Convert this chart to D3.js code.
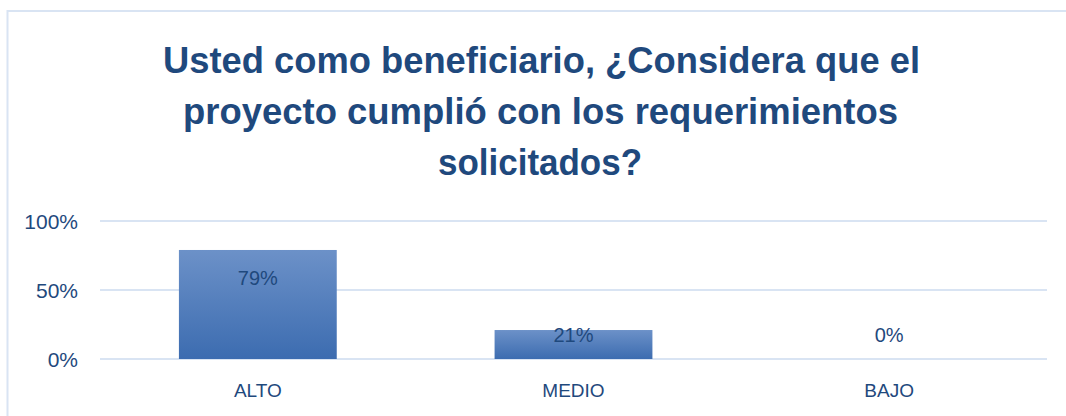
<!DOCTYPE html>
<html>
<head>
<meta charset="utf-8">
<script src="https://cdn.jsdelivr.net/npm/d3@7"></script>
<style>
  html, body { margin: 0; padding: 0; background: #fff; }
  svg { display: block; }
</style>
</head>
<body>
<svg id="chart" width="1066" height="416"></svg>
<script>
const categories = ["ALTO", "MEDIO", "BAJO"];
const values = [0.79, 0.21, 0.0];
const valueLabels = ["79%", "21%", "0%"];
const tickValues = [0, 0.5, 1];
const tickLabels = ["0%", "50%", "100%"];
const titleLines = [
  "Usted como beneficiario, ¿Considera que el",
  "proyecto cumplió con los requerimientos",
  "solicitados?"
];

const svg = d3.select("#chart");
const W = 1066, H = 416;
const textColor = "#1F497D";
const gridColor = "#D9E4F3";

// chart border
svg.append("rect")
  .attr("x", 7.5).attr("y", 11)
  .attr("width", W + 20).attr("height", H + 20)
  .attr("fill", "none").attr("stroke", gridColor).attr("stroke-width", 2);

// gradient
const defs = svg.append("defs");
const grad = defs.append("linearGradient").attr("id", "barGrad")
  .attr("x1", 0).attr("y1", 0).attr("x2", 0).attr("y2", 1);
grad.append("stop").attr("offset", "0%").attr("stop-color", "#6C91C8");
grad.append("stop").attr("offset", "100%").attr("stop-color", "#3C6CB0");

// title
const titleSpec = [
  { x0: 163, x1: 920, y: 73 },
  { x0: 183, x1: 898, y: 124 },
  { x0: 438, x1: 642, y: 175 }
];
svg.append("g").selectAll("text")
  .data(titleLines)
  .join("text")
  .attr("x", (d, i) => titleSpec[i].x0)
  .attr("y", (d, i) => titleSpec[i].y)
  .attr("textLength", (d, i) => titleSpec[i].x1 - titleSpec[i].x0)
  .attr("lengthAdjust", "spacingAndGlyphs")
  .attr("font-family", "'Liberation Sans', Arial, sans-serif")
  .attr("font-weight", "bold")
  .attr("font-size", 37)
  .attr("fill", textColor)
  .text(d => d);

// scales
const x = d3.scaleBand().domain(categories).range([100, 1047])
  .paddingInner(0.5).paddingOuter(0.25);
const y = d3.scaleLinear().domain([0, 1]).range([359, 221]);

// gridlines
svg.append("g").selectAll("line")
  .data(tickValues)
  .join("line")
  .attr("x1", 100).attr("x2", 1047)
  .attr("y1", d => y(d)).attr("y2", d => y(d))
  .attr("stroke", gridColor).attr("stroke-width", 2);

// y axis labels
const yAxis = d3.axisLeft(y).tickValues(tickValues)
  .tickFormat((d, i) => tickLabels[i]).tickSize(0).tickPadding(0);
const gy = svg.append("g").attr("transform", "translate(78,0)").call(yAxis);
gy.select(".domain").remove();
gy.selectAll("text")
  .attr("font-family", "'Liberation Sans', Arial, sans-serif")
  .attr("font-size", 21).attr("fill", textColor).attr("dy", "0.35em");

// bars
svg.append("g").selectAll("rect")
  .data(values)
  .join("rect")
  .attr("x", (d, i) => x(categories[i]))
  .attr("width", x.bandwidth())
  .attr("y", d => y(d))
  .attr("height", d => y(0) - y(d))
  .attr("fill", "url(#barGrad)");

// value labels
svg.append("g").selectAll("text")
  .data(values)
  .join("text")
  .attr("x", (d, i) => x(categories[i]) + x.bandwidth() / 2)
  .attr("y", d => Math.min(y(d) + 28, y(0) - 24))
  .attr("dy", "0.35em")
  .attr("text-anchor", "middle")
  .attr("font-family", "'Liberation Sans', Arial, sans-serif")
  .attr("font-size", 20).attr("fill", textColor)
  .text((d, i) => valueLabels[i]);

// x axis labels
const xAxis = d3.axisBottom(x).tickSize(0).tickPadding(0);
const gx = svg.append("g").attr("transform", "translate(0,390)").call(xAxis);
gx.select(".domain").remove();
gx.selectAll("text")
  .attr("font-family", "'Liberation Sans', Arial, sans-serif")
  .attr("font-size", 19).attr("fill", textColor)
  .attr("dy", "0.35em").attr("y", 0);
</script>
</body>
</html>
